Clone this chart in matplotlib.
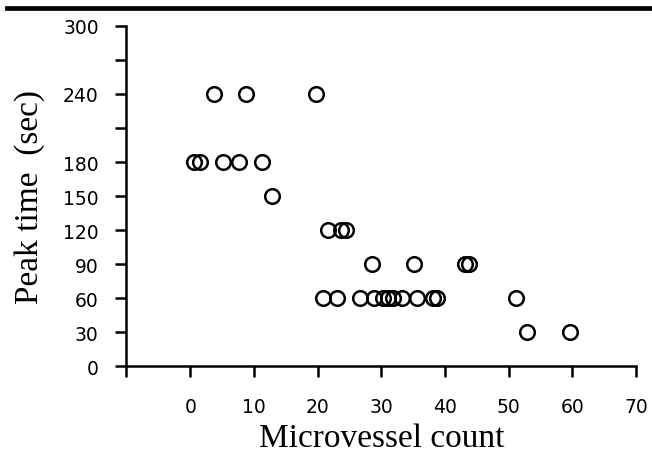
import matplotlib.pyplot as plt
from matplotlib.lines import Line2D

# microvessel count vs peak time
count_240 = [3.8, 8.8, 19.7]
count_180 = [0.6, 1.6, 5.1, 7.6, 11.3]
count_150 = [12.8]
count_120 = [21.6, 23.6, 24.4]
count_90 = [28.5, 35.2, 43.2, 43.7]
count_60 = [20.9, 23.0, 26.6, 28.9, 30.3, 31.0, 31.9, 33.2, 35.6, 38.1, 38.8, 51.1]
count_30 = [52.9, 59.7]

x_points = count_240 + count_180 + count_150 + count_120 + count_90 + count_60 + count_30
y_points = ([240] * len(count_240) + [180] * len(count_180) + [150] * len(count_150)
            + [120] * len(count_120) + [90] * len(count_90) + [60] * len(count_60)
            + [30] * len(count_30))

x_ticks = [-10, 0, 10, 20, 30, 40, 50, 60, 70]
x_tick_labels = ["", "0", "10", "20", "30", "40", "50", "60", "70"]
y_ticks = [0, 30, 60, 90, 120, 150, 180, 210, 240, 270, 300]
y_tick_labels = ["0", "30", "60", "90", "120", "150", "180", "", "240", "", "300"]

fig = plt.figure(figsize=(6.52, 4.56), dpi=100)
ax = fig.add_axes([0.194, 0.1945, 0.7816, 0.7465])

ax.plot(x_points, y_points, linestyle="none", marker="o", markersize=10.5,
        markerfacecolor="none", markeredgecolor="black", markeredgewidth=1.8,
        clip_on=False)

ax.set_xlim(-10, 70)
ax.set_ylim(0, 300)
ax.spines["top"].set_visible(False)
ax.spines["right"].set_visible(False)
ax.spines["left"].set_linewidth(1.8)
ax.spines["bottom"].set_linewidth(1.8)

ax.set_xticks(x_ticks)
ax.set_xticklabels(x_tick_labels)
ax.set_yticks(y_ticks)
ax.set_yticklabels(y_tick_labels)
ax.tick_params(direction="out", length=8, width=1.8, labelsize=13.5)
ax.tick_params(axis="y", pad=12)
ax.tick_params(axis="x", pad=14)

ax.set_xlabel("Microvessel count", family="Liberation Serif", fontsize=24, labelpad=5)
ax.set_ylabel("Peak time  (sec)", family="Liberation Serif", fontsize=24, labelpad=13)

# thick rule across the top of the figure
fig.add_artist(Line2D([0.011, 1.0], [0.981, 0.981], transform=fig.transFigure,
                      color="black", linewidth=3.4))

fig.savefig("out.png", dpi=100)
